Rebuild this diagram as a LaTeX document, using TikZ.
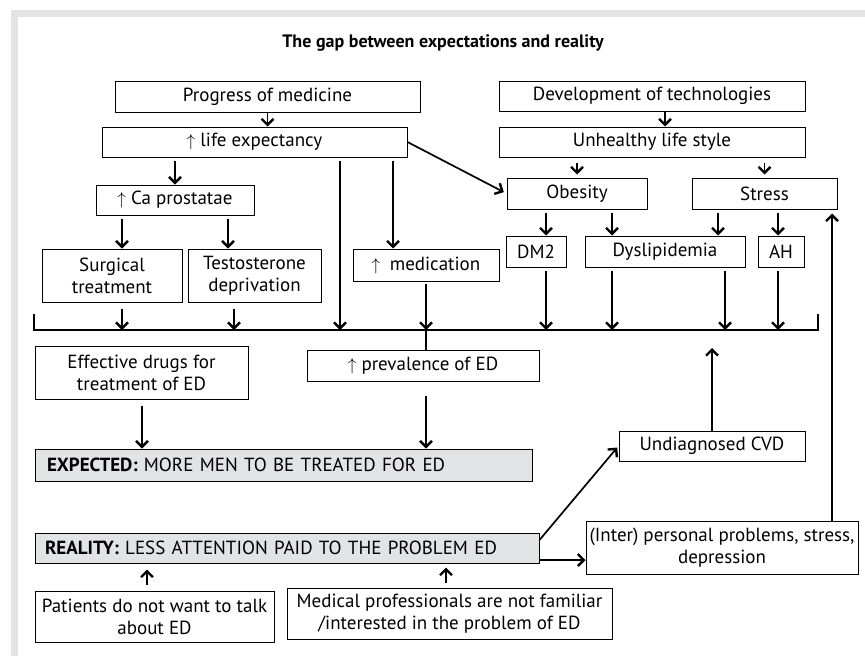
\documentclass[tikz,border=0pt]{standalone}
\usepackage{fontspec}
\setmainfont{PT Sans}
\usepackage{amsmath}
\usepackage{tikz}
\usetikzlibrary{arrows.meta}

\definecolor{panelgray}{RGB}{226,227,229}

\tikzset{
  box/.style={draw, line width=1pt, inner sep=0pt, align=center, minimum height=31pt},
  greybox/.style={box, fill=panelgray, align=left},
  ln/.style={line width=1.7pt},
  arr/.style={line width=1.7pt, -{Straight Barb[length=6pt,width=12pt,line width=2.4pt]}}
}

\begin{document}
\begin{tikzpicture}[x=1pt,y=-1pt,font=\fontsize{19}{22}\selectfont]
\useasboundingbox (0,0) rectangle (865,656);
%Rahmen
\fill[panelgray] (11,10) rectangle (865,17);
\fill[panelgray] (11,10) rectangle (18,656);

\node[font=\fontsize{18}{21}\selectfont\bfseries] (title) at (443,43) {The gap between expectations and reality};

%Kaesten
\node[box, minimum width=305pt] (prog) at (267.5,96.5) {Progress of medicine};
\node[box, minimum width=305pt, minimum height=30pt] (life) at (254.5,142) {$\uparrow$ life expectancy};
\node[box, minimum width=158pt, minimum height=30pt] (ca) at (175,200) {$\uparrow$ Ca prostatae};
\node[box, minimum width=306pt, minimum height=30pt] (dev) at (652,96) {Development of technologies};
\node[box, minimum width=306pt, minimum height=30pt] (unh) at (652,142) {Unhealthy life style};
\node[box, minimum width=140pt] (obes) at (577,193.5) {Obesity};
\node[box, minimum width=145pt] (stress) at (764.5,193.5) {Stress};
\node[box, minimum width=140pt, minimum height=53pt] (surg) at (112,275.5) {Surgical\\treatment};
\node[box, minimum width=133pt, minimum height=53pt] (testo) at (254.5,275.5) {Testosterone\\deprivation};
\node[box, minimum width=146pt, minimum height=32pt] (medi) at (426,265) {$\uparrow$\enspace medication};
\node[box, minimum width=60pt] (dm2) at (536,251.5) {DM2};
\node[box, minimum width=160pt] (dysl) at (665,251.5) {Dyslipidemia};
\node[box, minimum width=46pt] (ah) at (781,251.5) {AH};
\node[box, minimum width=213pt, minimum height=53pt] (eff) at (141.5,372.5) {Effective drugs for\\treatment of ED};
\node[box, minimum width=232pt] (prev) at (423,365.5) {$\uparrow$ prevalence of ED};
\node[greybox, text width=473pt, inner xsep=12pt, minimum height=32pt] (expe) at (283.5,465) {\textbf{EXPECTED:} MORE MEN TO BE TREATED FOR ED};
\node[box, minimum width=186pt, minimum height=30pt] (undiag) at (712,446) {Undiagnosed CVD};
\node[greybox, text width=484pt, inner xsep=10pt, minimum height=30pt] (real) at (287,548) {\textbf{REALITY:} LESS ATTENTION PAID TO THE PROBLEM ED};
\node[box, minimum width=272pt, minimum height=53pt] (inter) at (722,547.5) {(Inter) personal problems, stress,\\depression};
\node[box, minimum width=239pt, minimum height=51pt] (pat) at (154.5,616.5) {Patients do not want to talk\\about ED};
\node[box, minimum width=325pt, minimum height=51pt] (medp) at (449.5,613.5) {Medical professionals are not familiar\\/interested in the problem of ED};

%Sammelschiene
\coordinate (busL) at (34,330);
\coordinate (busR) at (818,330);
\coordinate (cvdtip) at (712,348);
\draw[ln] ([yshift=16pt]busL) -- (busL) -- (busR) -- ([yshift=16pt]busR);

%Pfeile
\draw[arr] (prog.south) -- (prog.south |- life.north);
\draw[arr, shorten <=3pt] (life.south -| ca.north) -- (ca.north);
\draw[arr, shorten <=3pt] (life.south -| 340,0) -- (busL -| 340,0);
\draw[arr, shorten <=3pt] (life.south -| 393,0) -- (medi.north -| 393,0);
\draw[arr, shorten >=3pt] (life.east) -- (obes.west);
\draw[arr] (dev.south -| 665,0) -- (unh.north -| 665,0);
\draw[arr, shorten <=5pt, shorten >=3pt] (unh.south -| obes.north) -- (obes.north);
\draw[arr, shorten <=5pt, shorten >=3pt] (unh.south -| stress.north) -- (stress.north);
\draw[arr, shorten <=3pt] (ca.south -| 122,0) -- (surg.north -| 122,0);
\draw[arr, shorten <=3pt] (ca.south -| 228,0) -- (testo.north -| 228,0);
\draw[arr, shorten <=3pt] (obes.south -| 546,0) -- (dm2.north -| 546,0);
\draw[arr, shorten <=3pt] (obes.south -| 612,0) -- (dysl.north -| 612,0);
\draw[arr, shorten <=3pt] (stress.south -| 718,0) -- (dysl.north -| 718,0);
\draw[arr, shorten <=3pt] (stress.south -| 778,0) -- (ah.north -| 778,0);
\draw[arr, shorten <=6pt] (surg.south -| 122,0) -- (busL -| 122,0);
\draw[arr, shorten <=6pt] (testo.south -| 234,0) -- (busL -| 234,0);
\draw[arr, shorten <=2pt] (medi.south) -- (busL -| medi.south);
\draw[arr, shorten <=3pt] (dm2.south -| 546,0) -- (busL -| 546,0);
\draw[arr, shorten <=3pt] (dysl.south -| 612,0) -- (busL -| 612,0);
\draw[arr, shorten <=3pt] (dysl.south -| 725,0) -- (busL -| 725,0);
\draw[arr, shorten <=3pt] (ah.south -| 778,0) -- (busL -| 778,0);
\draw[ln] (busL -| medi.south) -- (prev.north -| medi.south);
\draw[arr, shorten <=6pt] (eff.south -| 142,0) -- (expe.north -| 142,0);
\draw[arr, shorten <=14pt] (prev.south -| medi.south) -- (expe.north -| medi.south);
\draw[arr] (undiag.north) -- (cvdtip);
\draw[arr, shorten >=2pt] ([yshift=8pt]real.east) -- (undiag.west);
\draw[arr] ([yshift=-12pt]real.east) coordinate (r2) -- (inter.west |- r2);
\draw[arr, shorten >=4pt] (inter.north -| 832,0) -- (stress.south -| 832,0);
\draw[arr, shorten <=6pt, shorten >=6pt] (pat.north -| 147,0) -- (real.south -| 147,0);
\draw[arr, shorten <=5pt, shorten >=4pt] (medp.north -| 446,0) -- (real.south -| 446,0);
\end{tikzpicture}
\end{document}
